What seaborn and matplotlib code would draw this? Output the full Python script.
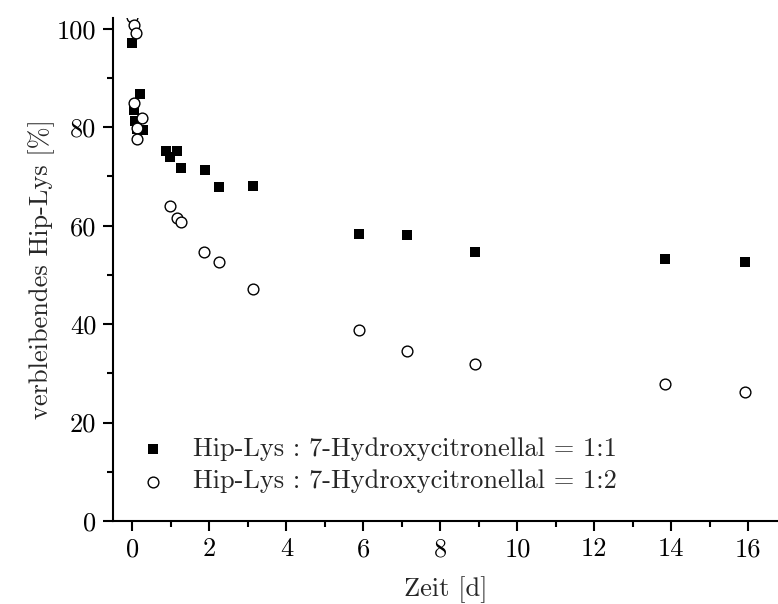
import matplotlib
matplotlib.use("Agg")
import matplotlib.pyplot as plt
import seaborn as sns
import pandas as pd
from matplotlib.ticker import MultipleLocator

# Series 1: Hip-Lys : 7-Hydroxycitronellal = 1:1 (filled squares)
t_11 = [0.0, 0.03, 0.06, 0.19, 0.12, 0.28, 0.87, 0.98, 1.15, 1.27, 1.88, 2.25, 3.14,
        5.89, 7.13, 8.90, 13.84, 15.92]
v_11 = [97.2, 83.5, 81.3, 86.7, 79.6, 79.4, 75.1, 73.9, 75.2, 71.8, 71.3, 67.8, 68.1,
        58.4, 58.2, 54.7, 53.2, 52.7]

# Series 2: Hip-Lys : 7-Hydroxycitronellal = 1:2 (open circles)
t_12 = [-0.02, 0.03, 0.08, 0.03, 0.25, 0.13, 0.13, 0.98, 1.15, 1.27, 1.87, 2.25, 3.14,
        5.89, 7.13, 8.90, 13.84, 15.92]
v_12 = [102.4, 100.8, 99.1, 84.9, 81.8, 79.8, 77.6, 64.1, 61.5, 60.7, 54.6, 52.6, 47.2,
        38.8, 34.6, 31.8, 27.8, 26.2]

label_11 = "Hip-Lys : 7-Hydroxycitronellal = 1:1"
label_12 = "Hip-Lys : 7-Hydroxycitronellal = 1:2"
x_ticks = [0, 2, 4, 6, 8, 10, 12, 14, 16]
y_ticks = [0, 20, 40, 60, 80, 100]

FS = 19

sns.set_theme(style="ticks")
plt.rcParams["font.family"] = ["cmr10", "DejaVu Serif"]
plt.rcParams["axes.formatter.use_mathtext"] = True
plt.rcParams["font.size"] = FS

df11 = pd.DataFrame({"Zeit": t_11, "Wert": v_11})
df12 = pd.DataFrame({"Zeit": t_12, "Wert": v_12})

fig = plt.figure(figsize=(7.78, 6.04), dpi=100)
ax = fig.add_axes([0.1452, 0.1374, 0.8548, 0.8328])

sns.scatterplot(data=df11, x="Zeit", y="Wert", ax=ax, marker="s", s=58,
                color="black", edgecolor="black", linewidth=0, label=label_11)
sns.scatterplot(data=df12, x="Zeit", y="Wert", ax=ax, marker="o", s=60,
                facecolor="white", edgecolor="black", linewidth=1.0, label=label_12)

ax.set_xlim(-0.506, 16.77)
ax.set_ylim(0, 102.2)
ax.set_xticks(x_ticks)
ax.set_yticks(y_ticks)
ax.xaxis.set_minor_locator(MultipleLocator(1))
ax.yaxis.set_minor_locator(MultipleLocator(10))
ax.set_xticklabels([str(v) for v in x_ticks])
ax.set_yticklabels([str(v) for v in y_ticks])

for side in ["top", "right"]:
    ax.spines[side].set_visible(False)
for side in ["left", "bottom"]:
    ax.spines[side].set_linewidth(1.5)
    ax.spines[side].set_color("black")

ax.tick_params(which="major", direction="out", length=7, width=1.5, labelsize=FS,
               color="black", labelcolor="black", pad=5)
ax.tick_params(which="minor", direction="out", length=4, width=1.5, color="black")

ax.set_xlabel("Zeit [d]", fontsize=FS, labelpad=11)
ax.set_ylabel("verbleibendes Hip-Lys [%]", fontsize=FS, labelpad=1.5)

leg = ax.legend(loc="lower left", bbox_to_anchor=(-0.0075, 0.018), frameon=False,
                fontsize=FS, handlelength=2.0, handletextpad=0.53, labelspacing=0.35,
                borderaxespad=0.3)

fig.savefig("out.png", dpi=100)
